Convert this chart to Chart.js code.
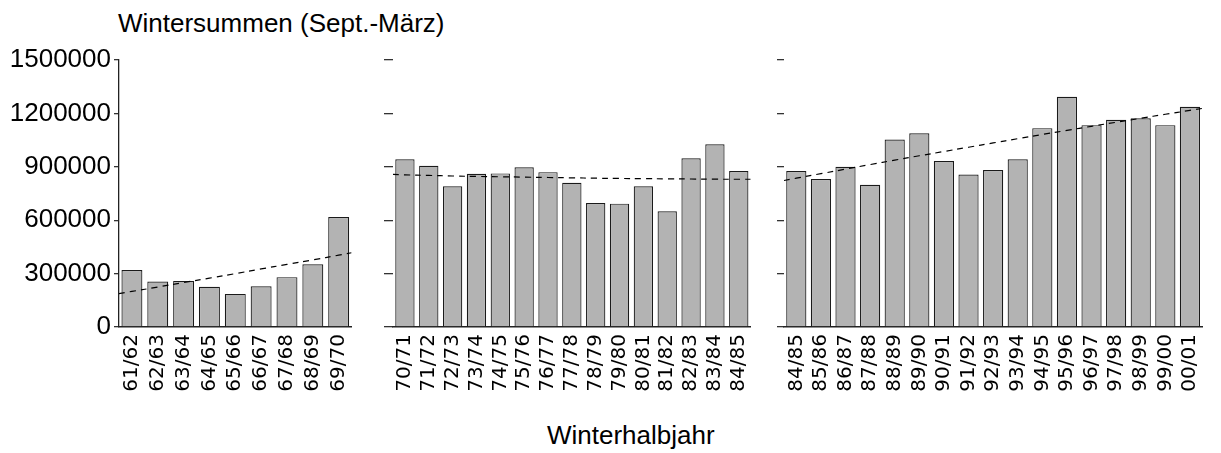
<!DOCTYPE html>
<html>
<head>
<meta charset="utf-8">
<script src="https://cdn.jsdelivr.net/npm/chart.js@4"></script>
<style>
  body { margin: 0; background: #fff; width: 1221px; height: 453px; position: relative; overflow: hidden; }
  canvas { position: absolute; top: 0; }
  .txt { position: absolute; font-family: "Liberation Sans", Arial, sans-serif; font-size: 26px; color: #000; white-space: nowrap; }
</style>
</head>
<body>
<div class="txt" id="titel" style="left:118px; top:8px;">Wintersummen (Sept.-März)</div>
<div class="txt" id="xtitel" style="left:547px; top:420px;">Winterhalbjahr</div>
<canvas id="c1" width="370" height="453" style="left:0px"></canvas>
<canvas id="c2" width="400" height="453" style="left:370px"></canvas>
<canvas id="c3" width="451" height="453" style="left:770px"></canvas>
<script>
// Winterhalbjahre je Abschnitt
const jahre1 = ['61/62', '62/63', '63/64', '64/65', '65/66', '66/67', '67/68', '68/69', '69/70'];
const jahre2 = ['70/71', '71/72', '72/73', '73/74', '74/75', '75/76', '76/77', '77/78', '78/79', '79/80',
                '80/81', '81/82', '82/83', '83/84', '84/85'];
const jahre3 = ['84/85', '85/86', '86/87', '87/88', '88/89', '89/90', '90/91', '91/92', '92/93', '93/94',
                '94/95', '95/96', '96/97', '97/98', '98/99', '99/00', '00/01'];

// Wintersummen (Sept.-März)
const summen1 = [320000, 256000, 259000, 226000, 186000, 229000, 280000, 352000, 618000];
const summen2 = [942000, 906000, 791000, 861000, 863000, 897000, 870000, 810000, 697000, 693000,
                 791000, 650000, 948000, 1027000, 876000];
const summen3 = [876000, 831000, 900000, 799000, 1053000, 1088000, 932000, 857000, 882000, 942000,
                 1117000, 1293000, 1134000, 1164000, 1173000, 1134000, 1237000];

const trend1 = [188000, 212000, 237000, 262000, 287000, 313000, 339000, 364000, 390000, 417000];
const trend2 = [857000, 853000, 850000, 847000, 845000, 843000, 841000, 839000, 837000, 835000,
                834000, 833000, 832000, 831000, 830000, 830000];
const trend3 = [823000, 849000, 874000, 900000, 925000, 950000, 974000, 998000, 1022000, 1046000,
                1070000, 1093000, 1116000, 1139000, 1161000, 1184000, 1206000, 1228000];

const yTicks = [0, 300000, 600000, 900000, 1200000, 1500000];

function zeichneAbschnitt(id, jahre, summen, trend, opt) {
    const punkte = trend.map((v, i) => ({ x: i - 0.5, y: v }));
    return new Chart(document.getElementById(id), {
        type: 'bar',
        data: {
            labels: jahre,
            datasets: [{
                data: summen,
                backgroundColor: '#b3b3b3',
                borderColor: '#1a1a1a',
                borderWidth: 1.2,
                grouped: false,
                barPercentage: opt.bar,
                categoryPercentage: 1.0,
                order: 2
            }, {
                type: 'line',
                data: punkte,
                xAxisID: 'xt',
                borderColor: '#000',
                borderWidth: 1.2,
                borderDash: [6, 5],
                pointRadius: 0,
                tension: 0.3,
                fill: false,
                order: 1
            }]
        },
        options: {
            responsive: false,
            animation: false,
            devicePixelRatio: 1,
            layout: { padding: { top: 60, right: opt.rechts, left: 0, bottom: 0 } },
            plugins: { legend: { display: false }, tooltip: { enabled: false } },
            scales: {
                x: {
                    type: 'category',
                    offset: true,
                    grid: { display: false, drawTicks: false },
                    border: { display: true, color: '#222', width: 1.5 },
                    ticks: {
                        autoSkip: false,
                        maxRotation: 90,
                        minRotation: 90,
                        padding: 7,
                        color: '#000',
                        font: { family: 'DejaVu Sans', size: 20 }
                    },
                    afterFit: s => { s.height = 126; }
                },
                xt: {
                    type: 'linear',
                    display: false,
                    offset: false,
                    min: -0.5,
                    max: jahre.length - 0.5
                },
                y: {
                    min: 0,
                    max: 1500000,
                    afterBuildTicks: s => { s.ticks = yTicks.map(v => ({ value: v })); },
                    grid: { drawOnChartArea: false, tickLength: opt.tick, color: '#333', lineWidth: 1.3 },
                    border: { display: opt.labels, color: '#222', width: 1.3 },
                    ticks: {
                        display: opt.labels,
                        padding: 3,
                        color: '#000',
                        font: { family: 'Liberation Sans', size: 26 },
                        callback: v => String(v)
                    },
                    afterFit: s => { s.width = opt.breite; }
                }
            }
        }
    });
}

zeichneAbschnitt('c1', jahre1, summen1, trend1, { labels: true, breite: 119, rechts: 6, tick: 5, bar: 0.81 });
zeichneAbschnitt('c2', jahre2, summen2, trend2, { labels: false, breite: 23, rechts: 7, tick: 9, bar: 0.81 });
zeichneAbschnitt('c3', jahre3, summen3, trend3, { labels: false, breite: 14, rechts: 2, tick: 7, bar: 0.82 });
</script>
</body>
</html>
